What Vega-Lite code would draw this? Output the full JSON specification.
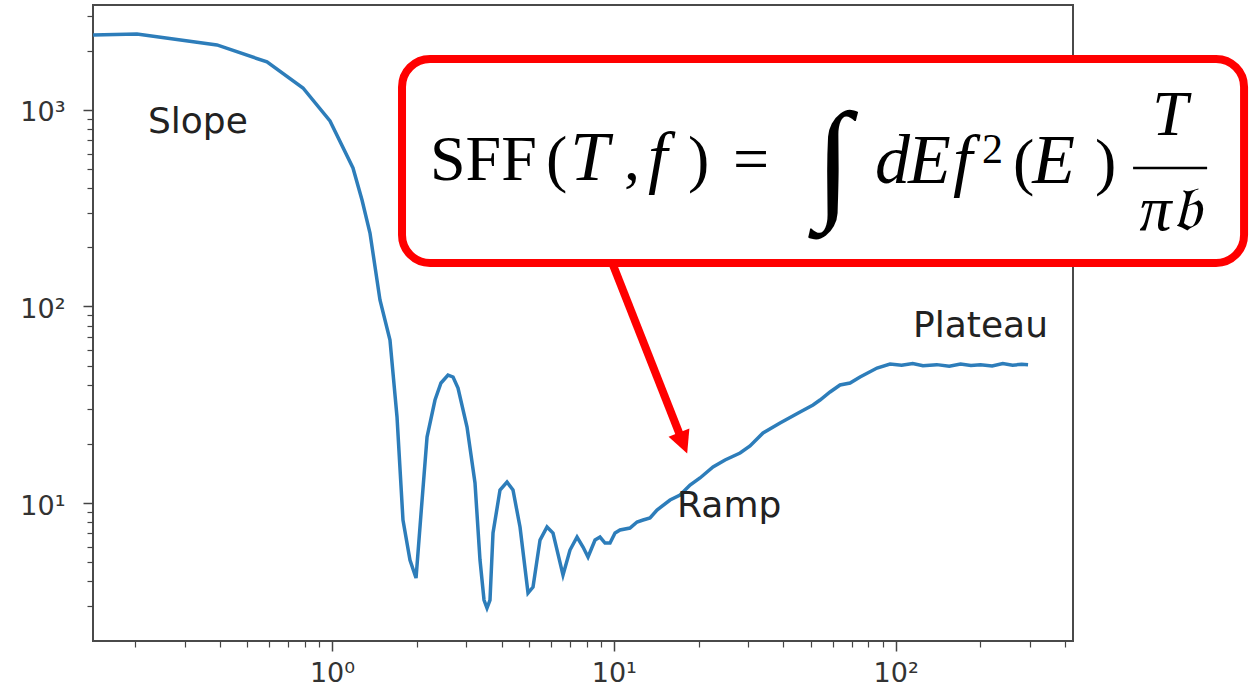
{
  "$schema": "https://vega.github.io/schema/vega-lite/v6.json",
  "width": 980,
  "height": 636,
  "autosize": {"type": "none"},
  "padding": {"left": 93, "top": 5, "right": 182, "bottom": 57},
  "background": "white",
  "config": {"view": {"stroke": "#4a4a4a", "strokeWidth": 2}},
  "datasets": {
    "curve": [
      {"t": 0.142, "v": 2408}, {"t": 0.2032, "v": 2437}, {"t": 0.3906, "v": 2142}, {"t": 0.5878, "v": 1755},
      {"t": 0.7891, "v": 1294}, {"t": 0.9838, "v": 879.0}, {"t": 1.187, "v": 506.9}, {"t": 1.278, "v": 348.3},
      {"t": 1.364, "v": 236.6}, {"t": 1.48, "v": 107.9}, {"t": 1.606, "v": 67.52}, {"t": 1.701, "v": 27.4},
      {"t": 1.786, "v": 8.196}, {"t": 1.891, "v": 5.128}, {"t": 1.987, "v": 4.152}, {"t": 2.069, "v": 8.79},
      {"t": 2.174, "v": 21.67}, {"t": 2.32, "v": 33.43}, {"t": 2.436, "v": 40.81}, {"t": 2.58, "v": 44.81},
      {"t": 2.689, "v": 43.78}, {"t": 2.8, "v": 38.47}, {"t": 3.014, "v": 24.37}, {"t": 3.217, "v": 12.64},
      {"t": 3.351, "v": 5.128}, {"t": 3.463, "v": 3.209}, {"t": 3.548, "v": 2.921}, {"t": 3.636, "v": 3.209},
      {"t": 3.727, "v": 7.035}, {"t": 3.946, "v": 11.65}, {"t": 4.178, "v": 12.79}, {"t": 4.388, "v": 11.65},
      {"t": 4.647, "v": 7.549}, {"t": 4.961, "v": 3.483}, {"t": 5.168, "v": 3.736}, {"t": 5.472, "v": 6.481},
      {"t": 5.794, "v": 7.549}, {"t": 6.085, "v": 7.035}, {"t": 6.602, "v": 4.3}, {"t": 6.991, "v": 5.765},
      {"t": 7.404, "v": 6.714}, {"t": 7.776, "v": 5.971}, {"t": 8.1, "v": 5.311}, {"t": 8.578, "v": 6.481},
      {"t": 8.934, "v": 6.714}, {"t": 9.307, "v": 6.256}, {"t": 9.694, "v": 6.256}, {"t": 10.1, "v": 7.035},
      {"t": 10.52, "v": 7.288}, {"t": 11.41, "v": 7.461}, {"t": 12.09, "v": 8.007}, {"t": 12.7, "v": 8.196},
      {"t": 13.44, "v": 8.391}, {"t": 14.23, "v": 9.213}, {"t": 15.83, "v": 10.36}, {"t": 17.18, "v": 10.98},
      {"t": 18.64, "v": 12.35}, {"t": 20.22, "v": 13.41}, {"t": 22.49, "v": 15.25}, {"t": 24.81, "v": 16.55},
      {"t": 28.05, "v": 17.97}, {"t": 30.43, "v": 19.5}, {"t": 33.84, "v": 22.71}, {"t": 38.89, "v": 25.53},
      {"t": 45.8, "v": 29.05}, {"t": 50.92, "v": 31.52}, {"t": 53.91, "v": 33.43}, {"t": 58.52, "v": 36.72},
      {"t": 63.5, "v": 39.86}, {"t": 68.9, "v": 40.81}, {"t": 74.76, "v": 43.78}, {"t": 85.9, "v": 48.64},
      {"t": 95.52, "v": 50.98}, {"t": 105, "v": 50.2}, {"t": 115, "v": 51.3}, {"t": 125, "v": 49.9},
      {"t": 140, "v": 50.6}, {"t": 155, "v": 49.7}, {"t": 170, "v": 51.0}, {"t": 185, "v": 50.1},
      {"t": 200, "v": 50.5}, {"t": 220, "v": 49.8}, {"t": 240, "v": 51.2}, {"t": 260, "v": 50.3},
      {"t": 280, "v": 50.8}, {"t": 295, "v": 50.5}
    ],
    "notes": [
      {"t": 0.2223, "v": 763.8, "label": "Slope"},
      {"t": 16.77, "v": 8.488, "label": "Ramp"},
      {"t": 115.3, "v": 69.95, "label": "Plateau"}
    ],
    "box": [{"t1": 1.772, "t2": 1723, "v1": 1818, "v2": 166.5}],
    "arrow": [{"t1": 9.935, "v1": 162.6, "t2": 17.61, "v2": 20.2}],
    "arrowhead": [{"t": 17.61, "v": 20.2}],
    "fracbar": [{"t1": 695.8, "t2": 1274, "v": 506.9}],
    "f_up": [
      {"t": 2.227, "v": 440.4, "label": "SFF"},
      {"t": 5.745, "v": 440.4, "label": "("},
      {"t": 10.87, "v": 440.4, "label": ","},
      {"t": 18.34, "v": 440.4, "label": ")"},
      {"t": 26.48, "v": 440.4, "label": "="},
      {"t": 261.0, "v": 425.1, "label": "("},
      {"t": 510.1, "v": 425.1, "label": ")"}
    ],
    "f_it": [
      {"t": 7.0, "v": 440.4, "label": "T"},
      {"t": 13.22, "v": 440.4, "label": "f"},
      {"t": 84.53, "v": 425.1, "label": "d"},
      {"t": 110.7, "v": 425.1, "label": "E"},
      {"t": 159.8, "v": 425.1, "label": "f"},
      {"t": 305.0, "v": 425.1, "label": "E"}
    ],
    "f_frac": [
      {"t": 941.3, "v": 746.2, "label": "T"},
      {"t": 941.3, "v": 245.1, "label": "π𝔟"}
    ],
    "f_sup": [{"t": 202.6, "v": 537.5, "label": "2"}],
    "f_int": [{"t": 59.96, "v": 332.3, "label": "∫"}]
  },
  "resolve": {"axis": {"x": "independent", "y": "independent"}},
  "layer": [
    {
      "data": {"name": "curve"},
      "mark": {"type": "line", "color": "#2d7dba", "strokeWidth": 3.5, "clip": true},
      "encoding": {
        "x": {"field": "t", "type": "quantitative",
              "scale": {"type": "log", "domain": [0.1419, 425.9], "nice": false},
              "axis": {"orient": "bottom", "values": [1, 10, 100], "tickSize": 10, "tickWidth": 1.5, "tickColor": "#444",
                       "domain": false, "grid": false, "title": null, "labelFont": "DejaVu Sans", "labelFontSize": 27,
                       "labelColor": "#333", "labelPadding": 9, "labelFlush": false,
                       "labelExpr": "'10' + (datum.value >= 999 ? '³' : datum.value >= 99 ? '²' : datum.value >= 9 ? '¹' : '⁰')"}},
        "y": {"field": "v", "type": "quantitative",
              "scale": {"type": "log", "domain": [1.986, 3420], "nice": false},
              "axis": {"orient": "left", "values": [10, 100, 1000], "tickSize": 10, "tickWidth": 1.5, "tickColor": "#444",
                       "domain": false, "grid": false, "title": null, "labelFont": "DejaVu Sans", "labelFontSize": 27,
                       "labelColor": "#333", "labelPadding": 18, "labelOffset": 3, "labelFlush": false,
                       "labelExpr": "'10' + (datum.value >= 999 ? '³' : datum.value >= 99 ? '²' : datum.value >= 9 ? '¹' : '⁰')"}}
      }
    },
    {
      "data": {"name": "notes"},
      "mark": {"type": "text", "font": "DejaVu Sans", "fontSize": 36, "align": "left", "baseline": "alphabetic", "color": "#222"},
      "encoding": {
        "x": {"field": "t", "type": "quantitative",
              "scale": {"type": "log", "domain": [0.1419, 425.9], "nice": false},
              "axis": {"orient": "bottom", "values": [0.2, 0.3, 0.4, 0.5, 0.6, 0.7, 0.8, 0.9, 2, 3, 4, 5, 6, 7, 8, 9, 20, 30, 40, 50, 60, 70, 80, 90, 200, 300, 400],
                       "tickSize": 6, "tickWidth": 1.2, "tickColor": "#444", "labels": false, "domain": false, "grid": false, "title": null}},
        "y": {"field": "v", "type": "quantitative",
              "scale": {"type": "log", "domain": [1.986, 3420], "nice": false},
              "axis": {"orient": "left", "values": [3, 4, 5, 6, 7, 8, 9, 20, 30, 40, 50, 60, 70, 80, 90, 200, 300, 400, 500, 600, 700, 800, 900, 2000, 3000],
                       "tickSize": 6, "tickWidth": 1.2, "tickColor": "#444", "labels": false, "domain": false, "grid": false, "title": null}},
        "text": {"field": "label"}
      }
    },
    {
      "data": {"name": "box"},
      "mark": {"type": "rect", "fill": "white", "stroke": "#ff0000", "strokeWidth": 8, "cornerRadius": 28},
      "encoding": {
        "x": {"field": "t1", "type": "quantitative", "scale": {"type": "log"}, "axis": null},
        "x2": {"field": "t2"},
        "y": {"field": "v1", "type": "quantitative", "scale": {"type": "log"}, "axis": null},
        "y2": {"field": "v2"}
      }
    },
    {
      "data": {"name": "arrow"},
      "mark": {"type": "rule", "color": "#ff0000", "strokeWidth": 8},
      "encoding": {
        "x": {"field": "t1", "type": "quantitative", "scale": {"type": "log"}, "axis": null},
        "x2": {"field": "t2"},
        "y": {"field": "v1", "type": "quantitative", "scale": {"type": "log"}, "axis": null},
        "y2": {"field": "v2"}
      }
    },
    {
      "data": {"name": "arrowhead"},
      "mark": {"type": "point", "shape": "M-1,-1L1,-1L0,1Z", "filled": true, "color": "#ff0000", "opacity": 1, "size": 500, "angle": -21.5},
      "encoding": {
        "x": {"field": "t", "type": "quantitative", "scale": {"type": "log"}, "axis": null},
        "y": {"field": "v", "type": "quantitative", "scale": {"type": "log"}, "axis": null}
      }
    },
    {
      "data": {"name": "fracbar"},
      "mark": {"type": "rule", "color": "black", "strokeWidth": 2.5},
      "encoding": {
        "x": {"field": "t1", "type": "quantitative", "scale": {"type": "log"}, "axis": null},
        "x2": {"field": "t2"},
        "y": {"field": "v", "type": "quantitative", "scale": {"type": "log"}, "axis": null}
      }
    },
    {
      "data": {"name": "f_up"},
      "mark": {"type": "text", "font": "Liberation Serif", "fontSize": 64, "align": "left", "baseline": "alphabetic", "color": "black"},
      "encoding": {
        "x": {"field": "t", "type": "quantitative", "scale": {"type": "log"}, "axis": null},
        "y": {"field": "v", "type": "quantitative", "scale": {"type": "log"}, "axis": null},
        "text": {"field": "label"}
      }
    },
    {
      "data": {"name": "f_it"},
      "mark": {"type": "text", "font": "Liberation Serif", "fontStyle": "italic", "fontSize": 70, "align": "left", "baseline": "alphabetic", "color": "black"},
      "encoding": {
        "x": {"field": "t", "type": "quantitative", "scale": {"type": "log"}, "axis": null},
        "y": {"field": "v", "type": "quantitative", "scale": {"type": "log"}, "axis": null},
        "text": {"field": "label"}
      }
    },
    {
      "data": {"name": "f_frac"},
      "mark": {"type": "text", "font": "Liberation Serif", "fontStyle": "italic", "fontSize": 64, "align": "center", "baseline": "alphabetic", "color": "black"},
      "encoding": {
        "x": {"field": "t", "type": "quantitative", "scale": {"type": "log"}, "axis": null},
        "y": {"field": "v", "type": "quantitative", "scale": {"type": "log"}, "axis": null},
        "text": {"field": "label"}
      }
    },
    {
      "data": {"name": "f_sup"},
      "mark": {"type": "text", "font": "Liberation Serif", "fontSize": 42, "align": "left", "baseline": "alphabetic", "color": "black"},
      "encoding": {
        "x": {"field": "t", "type": "quantitative", "scale": {"type": "log"}, "axis": null},
        "y": {"field": "v", "type": "quantitative", "scale": {"type": "log"}, "axis": null},
        "text": {"field": "label"}
      }
    },
    {
      "data": {"name": "f_int"},
      "mark": {"type": "text", "font": "Liberation Serif", "fontSize": 132, "align": "center", "baseline": "alphabetic", "color": "black"},
      "encoding": {
        "x": {"field": "t", "type": "quantitative", "scale": {"type": "log"}, "axis": null},
        "y": {"field": "v", "type": "quantitative", "scale": {"type": "log"}, "axis": null},
        "text": {"field": "label"}
      }
    }
  ]
}
